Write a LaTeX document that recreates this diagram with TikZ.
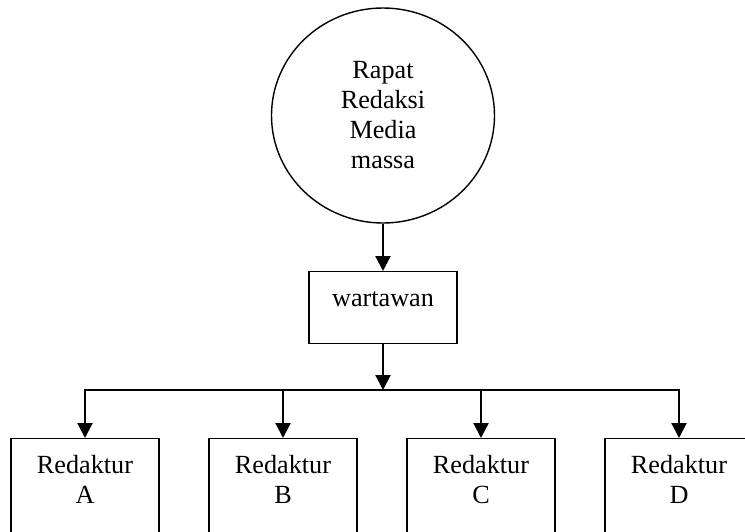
\documentclass[tikz,border=0pt]{standalone}
\usepackage{fontspec}
\setmainfont{Liberation Serif}
\usetikzlibrary{positioning,shapes.geometric,arrows.meta}
\tikzset{font=\fontsize{13.1}{15}\selectfont}

\begin{document}
\begin{tikzpicture}[x=0.5pt, y=-0.5pt]
	\tikzstyle{every node}=[align=center, inner sep=0pt]
	\tikzstyle{kotak}=[draw, line width=0.7pt, minimum width=74pt, anchor=north]
	\tikzstyle{panah}=[line width=1.1pt, -{Triangle[length=7.5pt, width=7.5pt]}]
	\useasboundingbox (0, 0) rectangle (745, 531);

	\node[draw, ellipse, line width=0.7pt, minimum width=111.5pt, minimum height=107.5pt] (rapat) at (383, 115.5) {Rapat\\Redaksi\\Media\\massa};
	\node[kotak, text height=17.5pt, text depth=18.5pt] (wartawan) at (383, 271) {wartawan};
	\coordinate (cabang) at (383, 390);

	\node[kotak, text height=32.5pt, text depth=33.5pt] (redA) at (85, 438) {Redaktur\\A};
	\node[kotak, text height=32.5pt, text depth=33.5pt] (redB) at (283, 438) {Redaktur\\B};
	\node[kotak, text height=32.5pt, text depth=33.5pt] (redC) at (481, 438) {Redaktur\\C};
	\node[kotak, text height=32.5pt, text depth=33.5pt] (redD) at (679, 438) {Redaktur\\D};

	\draw[panah] (rapat) -- (wartawan);
	\draw[panah] (wartawan) -- (cabang);
	\foreach \r in {redA, redB, redC, redD}
		\draw[panah] (cabang) -| (\r);
\end{tikzpicture}
\end{document}
